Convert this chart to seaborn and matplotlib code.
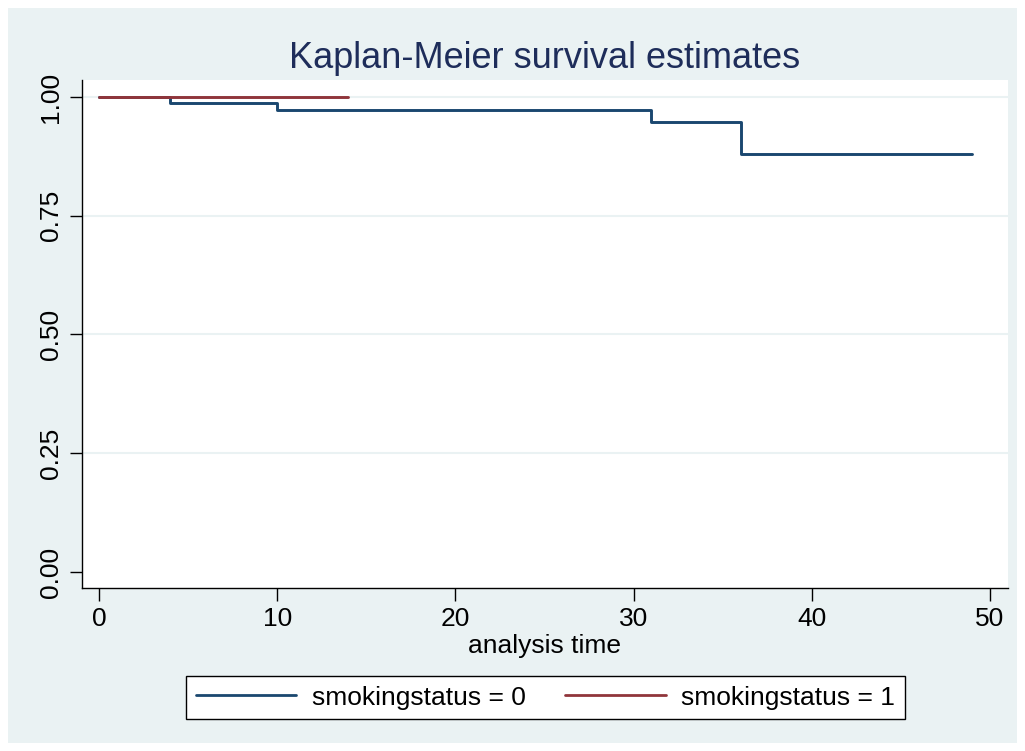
import matplotlib
matplotlib.use("Agg")
import matplotlib.pyplot as plt
import seaborn as sns
import pandas as pd
from matplotlib.patches import Rectangle

# Kaplan-Meier step estimates per group
time_0 = [0, 4, 10, 31, 36, 49]
surv_0 = [1.0, 0.987, 0.973, 0.947, 0.879, 0.879]
time_1 = [0, 14]
surv_1 = [1.0, 1.0]
group_labels = ["smokingstatus = 0", "smokingstatus = 1"]
x_ticks = [0, 10, 20, 30, 40, 50]
y_ticks = [0.00, 0.25, 0.50, 0.75, 1.00]

df = pd.concat([
    pd.DataFrame({"time": time_0, "survival": surv_0, "group": group_labels[0]}),
    pd.DataFrame({"time": time_1, "survival": surv_1, "group": group_labels[1]}),
], ignore_index=True)

sns.set_theme(style="white")
plt.rcParams["font.family"] = ["Liberation Sans", "DejaVu Sans"]
plt.rcParams["text.color"] = "black"

bg = "#EAF2F3"
fig = plt.figure(figsize=(10.25, 7.51), dpi=100, facecolor="white")
# outer graph region
fig.patches.append(Rectangle((8 / 1025, 8 / 751), 1009 / 1025, 735 / 751,
                             transform=fig.transFigure, facecolor=bg,
                             edgecolor="none", zorder=-5))

ax = fig.add_axes([82 / 1025, 1 - 588 / 751, 926 / 1025, 508 / 751])
ax.set_zorder(2)
ax.set_facecolor("white")

palette = {group_labels[0]: "#1A476F", group_labels[1]: "#90353B"}
sns.lineplot(data=df, x="time", y="survival", hue="group", palette=palette,
             drawstyle="steps-post", estimator=None, linewidth=2.1, ax=ax,
             legend=False, zorder=3)

ax.set_xlim(-0.954, 51.01)
ax.set_ylim(-0.0337, 1.0358)
ax.set_xticks(x_ticks)
ax.set_yticks(y_ticks)
ax.set_xticklabels([str(t) for t in x_ticks])
ax.set_yticklabels([f"{t:.2f}" for t in y_ticks], rotation=90, va="center")

for yv in y_ticks[1:]:
    ax.axhline(yv, color=bg, linewidth=1.5, zorder=1)

for s in ["top", "right"]:
    ax.spines[s].set_visible(False)
for s in ["left", "bottom"]:
    ax.spines[s].set_color("black")
    ax.spines[s].set_linewidth(1.0)

ax.tick_params(axis="both", direction="out", length=9, width=1.0,
               color="black", labelsize=19, labelcolor="black", pad=5,
               left=True, bottom=True)

ax.set_xlabel("analysis time", fontsize=19, color="black", labelpad=2)
ax.set_ylabel("")

fig.text(545 / 1025, 1 - 58 / 751, "Kaplan-Meier survival estimates",
         ha="center", va="center", fontsize=26, color="#1E2D5A", zorder=3)

handles = [plt.Line2D([], [], color=palette[g], linewidth=2.0) for g in group_labels]
leg = fig.legend(handles, group_labels, loc="center",
                 bbox_to_anchor=(545.5 / 1025, 1 - 697.5 / 751), ncol=2,
                 fontsize=19, frameon=True, fancybox=False, handlelength=3.8,
                 handletextpad=0.6, columnspacing=1.5, borderpad=0.35,
                 borderaxespad=0, labelcolor="black")
leg.set_zorder(3)
leg.get_frame().set_edgecolor("black")
leg.get_frame().set_linewidth(1.0)
leg.get_frame().set_facecolor("white")
leg.get_frame().set_alpha(1.0)

fig.savefig("out.png", dpi=100, facecolor="white")
